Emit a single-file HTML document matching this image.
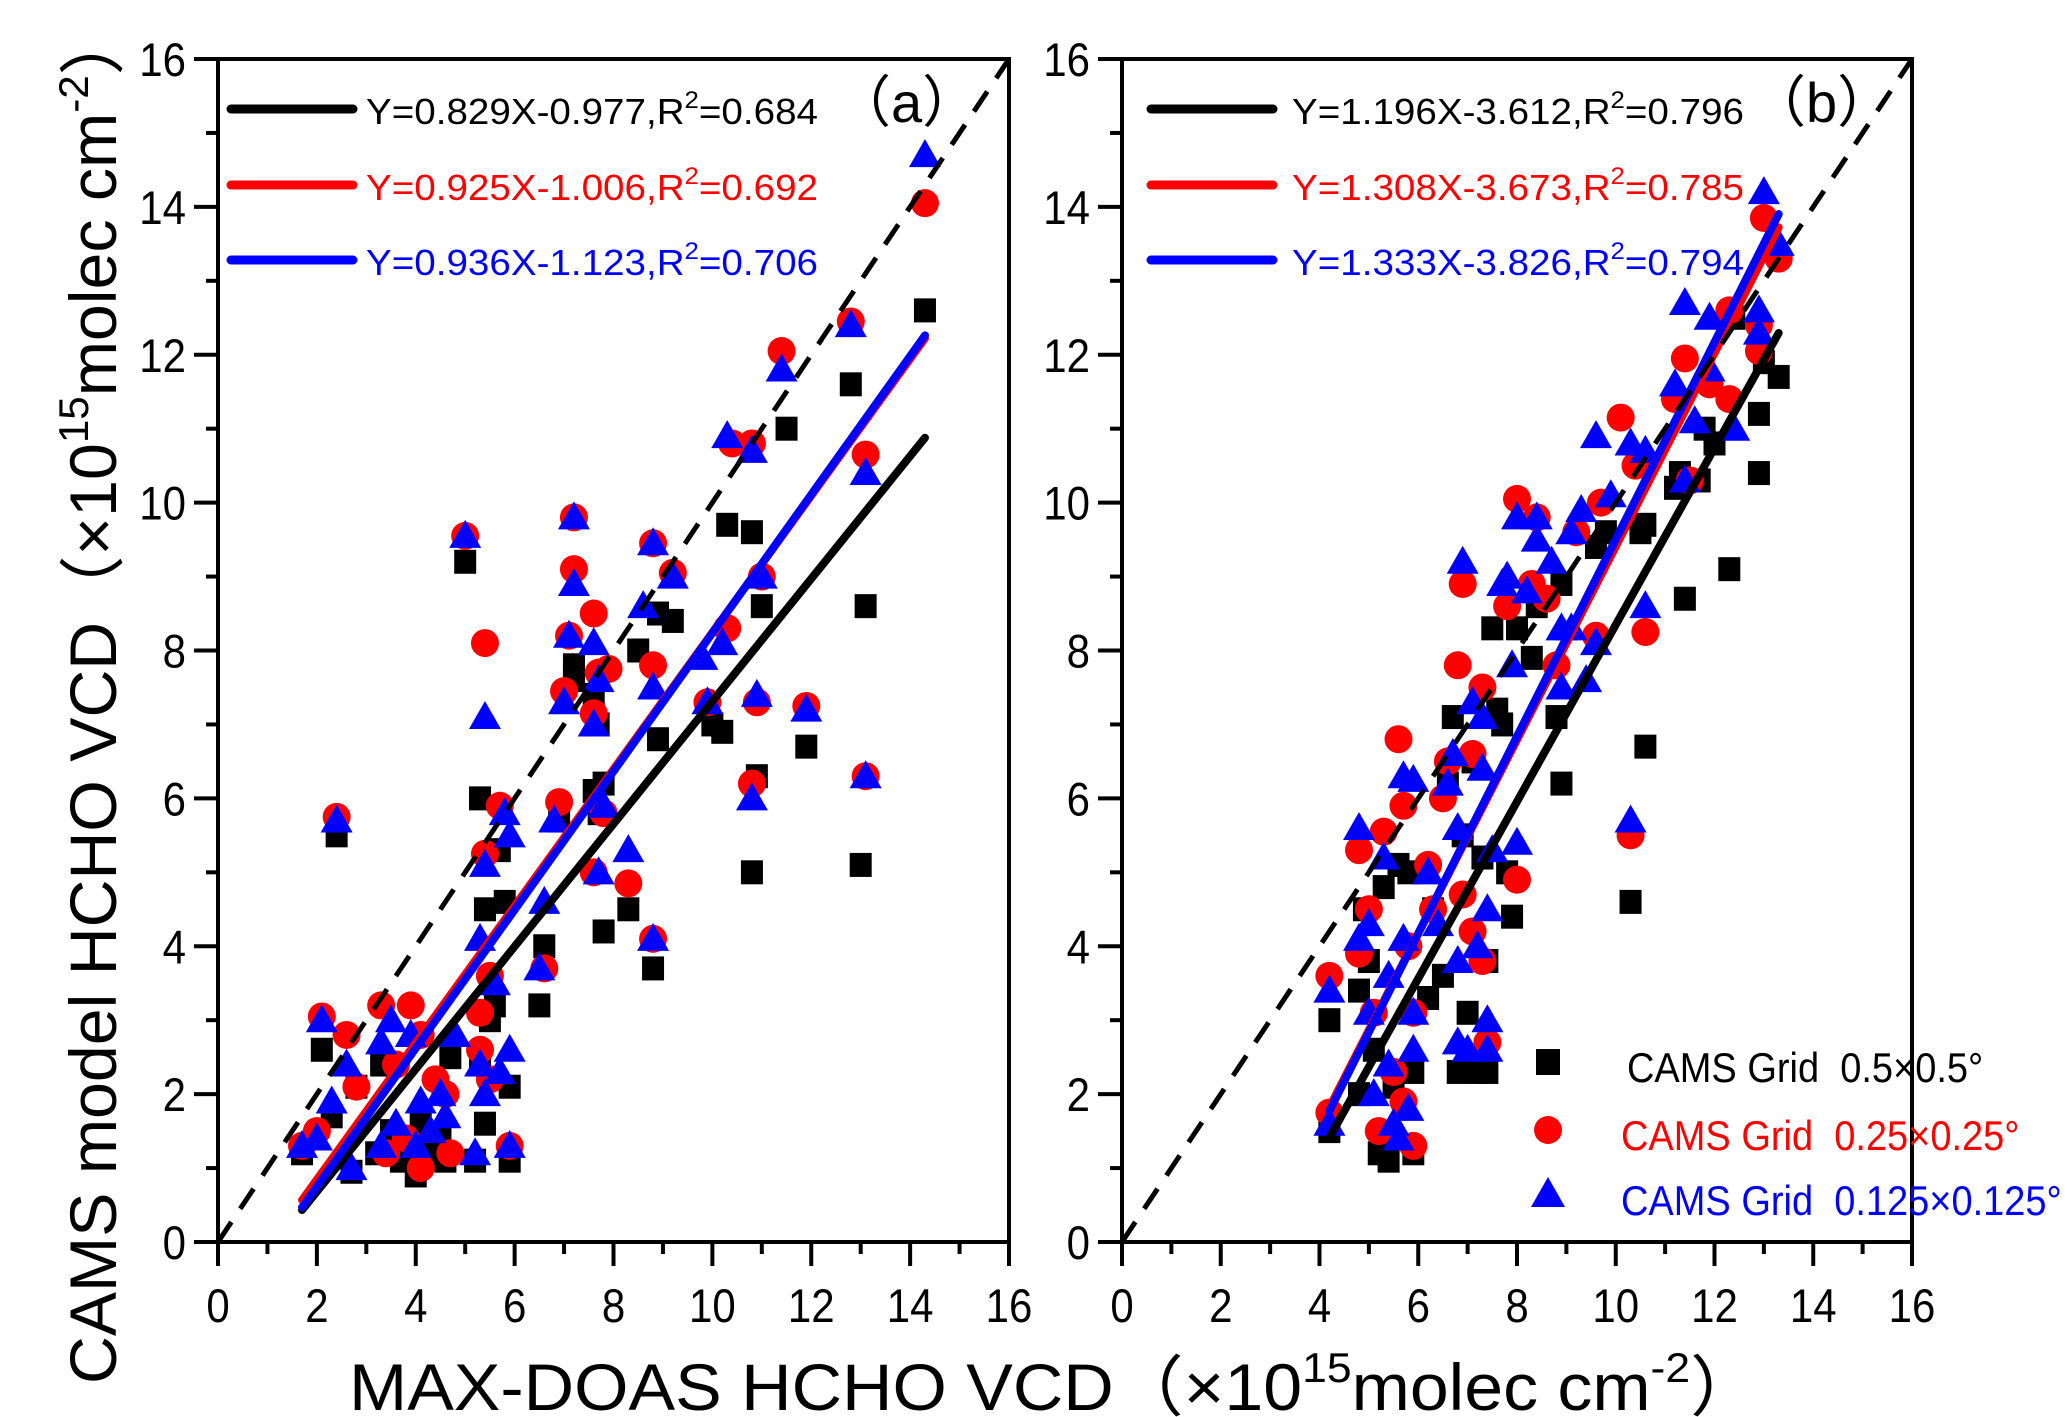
<!DOCTYPE html>
<html><head><meta charset="utf-8"><style>
html,body{margin:0;padding:0;background:#fff;}
svg{display:block;font-family:"Liberation Sans","Noto Sans CJK SC",sans-serif;}
</style></head><body>
<svg id="chart" width="2067" height="1417" viewBox="0 0 2067 1417" xmlns="http://www.w3.org/2000/svg">
<text transform="translate(116,1384) rotate(-90)" font-size="66" textLength="1375" lengthAdjust="spacingAndGlyphs">CAMS model HCHO VCD<tspan font-family="Noto Sans CJK SC, sans-serif">（</tspan>×10<tspan font-size="42" dy="-28">15</tspan><tspan dy="28">molec cm</tspan><tspan font-size="42" dy="-28">-2</tspan><tspan dy="28" font-family="Noto Sans CJK SC, sans-serif">）</tspan></text>
<text x="349" y="1410" font-size="66" textLength="1411" lengthAdjust="spacingAndGlyphs">MAX-DOAS HCHO VCD<tspan font-family="Noto Sans CJK SC, sans-serif">（</tspan>×10<tspan font-size="42" dy="-28">15</tspan><tspan dy="28">molec cm</tspan><tspan font-size="42" dy="-28">-2</tspan><tspan dy="28" font-family="Noto Sans CJK SC, sans-serif">）</tspan></text>
</svg>
<script>
const ticks = [0,2,4,6,8,10,12,14,16];
const tickLabels = ["0","2","4","6","8","10","12","14","16"];
const aBlackX=[1.7,2.1,2.3,2.4,2.7,2.8,3.2,3.3,3.5,3.7,3.9,4.0,4.1,4.3,4.5,4.6,4.7,5.2,5.3,5.4,5.4,5.3,5.5,5.6,5.7,5.8,5.9,5.9,5.0,6.5,6.6,6.9,7.2,7.2,7.6,7.6,7.7,7.8,7.8,7.7,8.3,8.5,8.8,8.9,8.9,9.2,10.0,10.2,10.3,10.8,10.8,10.9,11.0,11.5,11.9,12.8,13.1,13.0,14.3];
const aBlackY=[1.2,2.6,1.7,5.5,0.95,2.1,1.2,2.4,1.5,1.1,1.3,0.9,1.6,1.2,1.4,1.1,2.5,1.1,2.4,1.6,4.5,6.0,3.0,3.2,5.3,4.6,2.1,1.1,9.2,3.2,4.0,5.7,7.8,7.6,7.4,6.1,5.8,6.2,4.2,7.0,4.5,8.0,3.7,6.8,8.5,8.4,7.0,6.9,9.7,9.6,5.0,6.3,8.6,11.0,6.7,11.6,8.6,5.1,12.6];
const aRedX=[1.7,2.1,2.0,2.6,2.8,3.3,3.4,3.6,3.8,3.9,4.1,4.1,4.4,4.6,4.7,2.4,5.0,5.3,5.3,5.4,5.4,5.5,5.5,5.7,5.9,6.6,6.9,7.0,7.2,7.2,7.1,7.6,7.6,7.7,7.9,7.8,7.6,8.3,8.8,8.8,8.8,9.2,9.9,10.3,10.4,10.8,10.8,10.9,11.0,11.4,11.9,12.8,13.1,13.1,14.3];
const aRedY=[1.3,3.05,1.5,2.8,2.1,3.2,1.2,2.4,1.4,3.2,2.8,1.0,2.2,2.0,1.2,5.75,9.55,3.1,2.6,8.1,5.25,3.6,2.2,5.9,1.3,3.7,5.95,7.45,9.1,9.8,8.2,8.5,7.15,7.7,7.75,5.8,5.0,4.85,4.1,7.8,9.45,9.05,7.3,8.3,10.8,10.8,6.2,7.3,9.0,12.05,7.25,12.45,10.65,6.3,14.05];
const aBlueX=[1.7,2.1,2.0,2.3,2.6,2.7,3.3,3.5,3.3,3.6,3.9,4.0,4.1,4.3,4.5,4.6,4.8,2.4,5.0,5.2,5.3,5.4,5.4,5.4,5.3,5.6,5.7,5.9,5.8,5.9,5.9,6.5,6.6,6.8,7.0,7.2,7.2,7.1,7.6,7.6,7.7,7.8,7.7,8.3,8.6,8.8,8.8,8.8,9.2,9.9,9.8,10.2,10.3,10.8,10.8,10.9,11.0,11.4,11.9,12.8,13.1,13.1,14.3];
const aBlueY=[1.3,3.0,1.4,1.9,2.4,1.0,2.7,3.0,1.3,1.6,2.8,1.3,1.9,1.5,2.0,1.7,2.8,5.7,9.55,1.2,2.4,2.0,7.1,5.1,4.1,3.5,2.3,2.6,5.8,5.5,1.3,3.7,4.6,5.7,7.3,8.9,9.8,8.2,8.1,7.0,7.6,5.9,5.0,5.3,8.6,4.1,7.5,9.45,9.0,7.3,7.9,8.1,10.9,10.7,6.0,7.4,9.0,11.8,7.2,12.4,10.4,6.3,14.7];
const bBlackX=[4.2,4.2,4.8,4.8,4.9,5.0,5.1,5.2,5.3,5.4,5.5,5.6,5.8,5.9,5.9,6.2,6.3,6.5,6.6,6.8,6.7,6.9,7.0,7.1,7.2,7.3,7.4,7.4,7.5,7.6,7.7,7.8,7.9,8.0,8.3,8.4,8.8,8.9,8.9,9.6,9.8,10.3,10.5,10.6,10.6,11.2,11.3,11.4,11.7,11.8,12.0,12.3,12.9,12.9,13.0,13.3,12.4];
const bBlackY=[3.0,1.5,2.0,3.4,4.5,3.8,2.6,1.2,4.8,1.1,2.1,5.1,5.0,2.3,1.2,3.3,4.5,3.6,6.2,2.3,7.1,5.5,3.1,6.5,2.3,5.2,2.3,3.8,8.3,7.2,7.0,5.0,4.4,8.3,7.9,8.6,7.1,6.2,8.9,9.4,9.6,4.6,9.6,9.7,6.7,10.2,10.4,8.7,10.3,11.0,10.8,9.1,10.4,11.2,11.9,11.7,12.5];
const bRedX=[4.2,4.2,4.8,4.8,5.0,5.1,5.2,5.3,5.5,5.6,5.7,5.7,5.8,5.9,5.9,6.2,6.3,6.5,6.6,6.8,6.9,6.9,7.1,7.1,7.3,7.3,7.4,7.8,8.0,8.0,8.3,8.4,8.6,8.8,9.2,9.6,9.7,10.1,10.3,10.6,10.4,11.2,11.4,11.5,11.9,12.3,12.3,12.9,12.9,13.0,13.3];
const bRedY=[3.6,1.75,5.3,3.9,4.5,3.1,1.5,5.55,2.3,6.8,5.9,1.9,4.0,3.1,1.3,5.1,4.5,6.0,6.5,7.8,8.9,4.7,4.2,6.6,7.5,3.8,2.7,8.6,10.05,4.9,8.9,9.8,8.7,7.8,9.6,8.2,10.0,11.15,5.5,8.25,10.5,11.4,11.95,10.3,11.6,11.4,12.6,12.05,12.4,13.85,13.3];
const bBlueX=[4.2,4.2,4.8,4.8,5.0,5.0,5.1,5.3,5.4,5.4,5.5,5.6,5.7,5.9,5.7,5.9,5.9,5.8,6.2,6.4,6.6,6.7,6.9,6.8,6.8,6.8,7.0,7.1,7.2,7.3,7.3,7.4,7.4,7.4,7.5,7.7,7.8,7.9,8.0,8.0,8.2,8.4,8.4,8.7,8.9,8.9,9.1,9.1,9.3,9.4,9.6,9.6,9.9,10.3,10.6,10.3,10.6,11.2,11.4,11.4,11.6,11.9,11.9,12.4,12.9,12.9,13.0,13.3];
const bBlueY=[3.4,1.6,5.6,4.1,4.3,3.1,2.0,5.2,3.6,2.4,1.6,1.4,6.3,6.25,4.1,3.1,2.6,1.8,5.0,4.3,6.2,6.6,9.2,5.6,3.8,2.7,2.6,7.3,4.0,6.4,7.1,4.5,3.0,2.6,5.3,8.9,9.0,7.8,9.8,5.4,8.8,9.5,9.8,9.2,8.3,7.5,9.6,8.3,9.9,7.6,8.1,10.9,10.1,10.8,10.7,5.7,8.6,11.6,10.3,12.7,11.1,12.5,11.8,11.0,12.6,12.3,14.2,13.5];
const aSlopes=[0.829,0.925,0.936], aIntercepts=[-0.977,-1.006,-1.123];
const bSlopes=[1.196,1.308,1.333], bIntercepts=[-3.612,-3.673,-3.826];
const aFitRange=[1.7,14.3], bFitRange=[4.2,13.3];
const aLegend=["Y=0.829X-0.977,R","=0.684","Y=0.925X-1.006,R","=0.692","Y=0.936X-1.123,R","=0.706"];
const bLegend=["Y=1.196X-3.612,R","=0.796","Y=1.308X-3.673,R","=0.785","Y=1.333X-3.826,R","=0.794"];

const NS="http://www.w3.org/2000/svg";
const svg=document.getElementById('chart');
const colors=["#000000","#ff0000","#0000ff"];
function mk(tag,attrs,parent){const e=document.createElementNS(NS,tag);for(const k in attrs)e.setAttribute(k,attrs[k]);(parent||svg).appendChild(e);return e;}

function panel(id,x0,x1,data,slopes,ints,range,legend,label,labelX,legX0,legTextX){
  const y0=1242,y1=59;
  const sx=v=>x0+(x1-x0)*v/16, sy=v=>y0-(y0-y1)*v/16;
  const g=mk('g',{});
  
  
  const names=['square','circle','triangle'];
  data.forEach((s,si)=>{
    const sg=mk('g',{fill:colors[si]},g);
    
    
    s[0].forEach((xv,i)=>{
      const cx=sx(xv),cy=sy(s[1][i]);let m;
      if(si==0)m=mk('rect',{x:cx-11,y:cy-12,width:22,height:24},sg);
      else if(si==1)m=mk('ellipse',{cx:cx,cy:cy,rx:14,ry:14},sg);
      else m=mk('polygon',{points:`${cx},${cy-16} ${cx-16},${cy+12} ${cx+16},${cy+12}`},sg);
      
      
    });
  });
  slopes.forEach((sl,i)=>{
    const l=mk('line',{x1:sx(range[0]),y1:sy(sl*range[0]+ints[i]),x2:sx(range[1]),y2:sy(sl*range[1]+ints[i]),stroke:colors[i],'stroke-width':8,'stroke-linecap':'round'},g);
    
    
  });
  const d=mk('line',{x1:sx(0),y1:sy(0),x2:sx(16),y2:sy(16),stroke:'#000','stroke-width':5,'stroke-dasharray':'24 16'},g);
  
  
  const fr=mk('rect',{x:x0,y:y1,width:x1-x0,height:y0-y1,fill:'none',stroke:'#000','stroke-width':4},g);
  
  
  for(let v=0;v<=16;v++){
    const major=v%2==0;
    const t=mk('line',{x1:sx(v),y1:y0,x2:sx(v),y2:y0+(major?24:12),stroke:'#000','stroke-width':4},g);
    
    
    const t2=mk('line',{x1:x0,y1:sy(v),x2:x0-(major?24:12),y2:sy(v),stroke:'#000','stroke-width':4},g);
    
    
  }
  ticks.forEach((v,i)=>{
    const tx=mk('text',{transform:`translate(${sx(v)},1322) scale(1,1.12)`,'font-size':42,'text-anchor':'middle'},g);
    tx.textContent=tickLabels[i];
    
    
    const ty=mk('text',{transform:`translate(${x0-32},${sy(v)+17}) scale(1,1.12)`,'font-size':42,'text-anchor':'end'},g);
    ty.textContent=tickLabels[i];
    
    
  });
  const ly=[109,185,260];
  for(let i=0;i<3;i++){
    const ll=mk('line',{x1:legX0,y1:ly[i],x2:legX0+122,y2:ly[i],stroke:colors[i],'stroke-width':9,'stroke-linecap':'round'},g);
    
    
    const lt=mk('text',{x:legTextX,y:ly[i]+15,'font-size':36,fill:colors[i],textLength:452,lengthAdjust:'spacingAndGlyphs'},g);
    
    
    const a=mk('tspan',{},lt);a.textContent=legend[i*2];
    const b=mk('tspan',{'font-size':24,dy:-16},lt);b.textContent='2';
    const c=mk('tspan',{dy:16},lt);c.textContent=legend[i*2+1];
  }
  const pl=mk('text',{x:labelX,y:122,'font-size':56},g);
  pl.textContent=label;
  
  
}
panel('a',218,1009,[[aBlackX,aBlackY],[aRedX,aRedY],[aBlueX,aBlueY]],aSlopes,aIntercepts,aFitRange,aLegend,'（a）',835,231,366);
panel('b',1122,1912,[[bBlackX,bBlackY],[bRedX,bRedY],[bBlueX,bBlueY]],bSlopes,bIntercepts,bFitRange,bLegend,'（b）',1750,1151,1292);

const legendLabels=["CAMS Grid  0.5×0.5°","CAMS Grid  0.25×0.25°","CAMS Grid  0.125×0.125°"];
const lgY=[1062,1130,1195], lgTX=[1627,1621,1621];
const lg=mk('g',{});


for(let i=0;i<3;i++){
  let m;const cx=1548,cy=lgY[i];
  if(i==0)m=mk('rect',{x:cx-12,y:cy-13,width:24,height:26,fill:colors[0]},lg);
  else if(i==1)m=mk('ellipse',{cx:cx,cy:cy,rx:14,ry:14,fill:colors[1]},lg);
  else m=mk('polygon',{points:`${cx},${cy-18} ${cx-17},${cy+12} ${cx+17},${cy+12}`,fill:colors[2]},lg);
  
  
  const t=mk('text',{transform:`translate(${lgTX[i]},${lgY[i]+20}) scale(1,1.1)`,'font-size':38,fill:colors[i]},lg);
  t.style.whiteSpace='pre';
  t.textContent=legendLabels[i];
  
  
}
</script>
</body></html>
